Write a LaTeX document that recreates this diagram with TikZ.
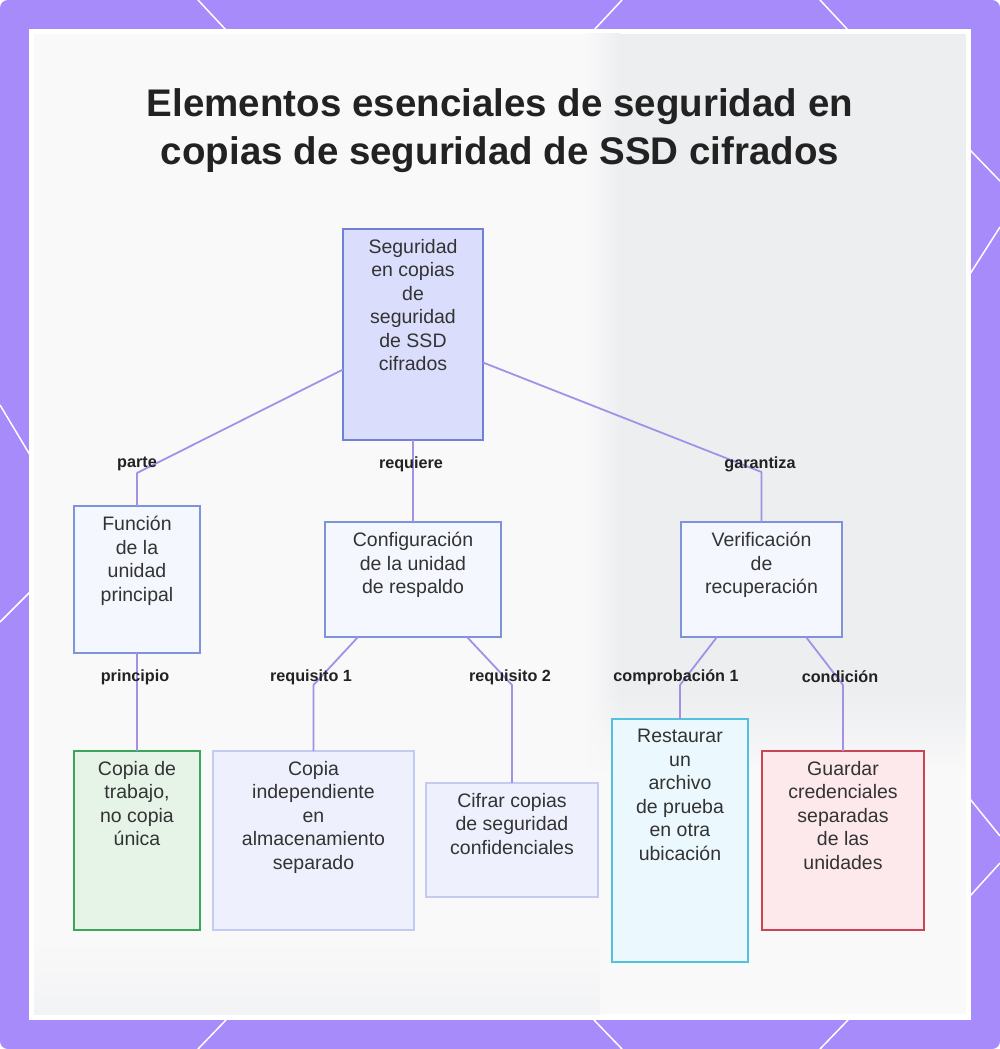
\documentclass[tikz,border=0pt]{standalone}
\usepackage{fontspec}
\setmainfont{Liberation Sans}
\usetikzlibrary{fadings}
\definecolor{purp}{HTML}{A78BFA}
\definecolor{bgin}{HTML}{F9F9FA}
\definecolor{bggray}{HTML}{EDEEF0}
\definecolor{conncol}{HTML}{A391E8}
\definecolor{txtcol}{HTML}{333333}
\definecolor{titlecol}{HTML}{222222}
\definecolor{rootfill}{HTML}{DADDFB}
\definecolor{rootdraw}{HTML}{6F80D6}
\definecolor{midfill}{HTML}{F5F7FE}
\definecolor{middraw}{HTML}{7F93DB}
\definecolor{palefill}{HTML}{EEF1FD}
\definecolor{paledraw}{HTML}{C3CBF3}
\definecolor{greenfill}{HTML}{E6F4E8}
\definecolor{greendraw}{HTML}{3BA55A}
\definecolor{cyanfill}{HTML}{EBF8FE}
\definecolor{cyandraw}{HTML}{52C2DC}
\definecolor{redfill}{HTML}{FDE8EC}
\definecolor{reddraw}{HTML}{C94554}
\begin{document}
\begin{tikzpicture}[x=1pt,y=-1pt,
  boxbase/.style={rectangle, inner sep=0pt, outer sep=0pt, line width=1.6pt},
  rootbox/.style={boxbase, fill=rootfill, draw=rootdraw},
  midbox/.style={boxbase, fill=midfill, draw=middraw},
  palebox/.style={boxbase, fill=palefill, draw=paledraw},
  greenbox/.style={boxbase, fill=greenfill, draw=greendraw},
  cyanbox/.style={boxbase, fill=cyanfill, draw=cyandraw},
  redbox/.style={boxbase, fill=redfill, draw=reddraw},
  boxtxt/.style={anchor=north, inner sep=0pt, align=center, text=txtcol,
    font=\fontsize{19.5}{23.5}\selectfont},
  conn/.style={draw=conncol, line width=1.8pt, line join=round},
  elabel/.style={inner sep=0pt, text=titlecol, font=\fontsize{16.2}{18}\selectfont\bfseries},
  titletxt/.style={inner sep=0pt, align=center, text=titlecol,
    font=\fontsize{38.5}{48}\selectfont\bfseries},
  deco/.style={white, line width=1.5pt}
]
\useasboundingbox (0,0) rectangle (1000,1049);
% frame
\fill[purp, rounded corners=8pt] (0,0) rectangle (1000,1049);
\draw[deco] (198,0) -- (226,30);
\draw[deco] (622,0) -- (594,30);
\draw[deco] (820,0) -- (848,30);
\draw[deco] (226,1020) -- (198,1049);
\draw[deco] (594,1020) -- (622,1049);
\draw[deco] (848,1020) -- (820,1049);
\draw[deco] (0,405) -- (30,455);
\draw[deco] (0,622) -- (30,592);
\draw[deco] (970,150) -- (1000,181);
\draw[deco] (970,274) -- (1000,227);
\draw[deco] (970,799) -- (1000,836);
\draw[deco] (970,896) -- (1000,863);
\fill[white] (29,29) rectangle (971,1020);
\fill[bgin] (34,34) rectangle (966,1014);
\fill[bggray] (620,34) rectangle (966,770);
\shade[left color=bgin, right color=bggray] (585,34) rectangle (620,770);
\fill[bgin, path fading=north] (585,690) rectangle (966,771);
\shade[top color=bgin, bottom color=bggray!70] (34,940) rectangle (600,1014);

% title
\node[titletxt] (title) at (500,131) {Elementos esenciales de seguridad en\\copias de seguridad de SSD cifrados};

% boxes
\node[rootbox, minimum width=140pt, minimum height=211pt] (root) at (413,334.5) {};
\node[midbox, minimum width=126pt, minimum height=147pt] (func) at (137,579.5) {};
\node[midbox, minimum width=176pt, minimum height=115pt] (config) at (413,579.5) {};
\node[midbox, minimum width=161pt, minimum height=115pt] (verif) at (761.5,579.5) {};
\node[greenbox, minimum width=126pt, minimum height=179pt] (copiat) at (137,840.5) {};
\node[palebox, minimum width=201pt, minimum height=179pt] (copiai) at (313.5,840.5) {};
\node[palebox, minimum width=172pt, minimum height=114pt] (cifrar) at (512,840) {};
\node[cyanbox, minimum width=136pt, minimum height=243pt] (rest) at (680,840.5) {};
\node[redbox, minimum width=162pt, minimum height=179pt] (guard) at (843,840.5) {};

% texts
\node[boxtxt] (rootT) at ([yshift=-10pt]root.north) {Seguridad\\en copias\\de\\seguridad\\de SSD\\cifrados};
\node[boxtxt] (funcT) at ([yshift=-10pt]func.north) {Función\\de la\\unidad\\principal};
\node[boxtxt] (configT) at ([yshift=-10pt]config.north) {Configuración\\de la unidad\\de respaldo};
\node[boxtxt] (verifT) at ([yshift=-10pt]verif.north) {Verificación\\de\\recuperación};
\node[boxtxt] (copiatT) at ([yshift=-10pt]copiat.north) {Copia de\\trabajo,\\no copia\\única};
\node[boxtxt] (copiaiT) at ([yshift=-10pt]copiai.north) {Copia\\independiente\\en\\almacenamiento\\separado};
\node[boxtxt] (cifrarT) at ([yshift=-10pt]cifrar.north) {Cifrar copias\\de seguridad\\confidenciales};
\node[boxtxt] (restT) at ([yshift=-10pt]rest.north) {Restaurar\\un\\archivo\\de prueba\\en otra\\ubicación};
\node[boxtxt] (guardT) at ([yshift=-10pt]guard.north) {Guardar\\credenciales\\separadas\\de las\\unidades};

% connectors
\draw[conn] ([yshift=-35pt]root.west) -- ([yshift=33pt]func.north) -- (func.north);
\draw[conn] (root.south) -- (config.north);
\draw[conn] ([yshift=-28pt]root.east) -- ([yshift=50pt]verif.north) -- (verif.north);
\draw[conn] (func.south) -- (copiat.north);
\draw[conn] ([xshift=-55pt]config.south) -- ([yshift=66pt]copiai.north) -- (copiai.north);
\draw[conn] ([xshift=54pt]config.south) -- ([yshift=98pt]cifrar.north) -- (cifrar.north);
\draw[conn] ([xshift=-44.5pt]verif.south) -- ([yshift=34pt]rest.north) -- (rest.north);
\draw[conn] ([xshift=44.5pt]verif.south) -- ([yshift=66pt]guard.north) -- (guard.north);

% edge labels
\node[elabel] (l1) at (137,464) {parte};
\node[elabel] (l2) at (411,464) {requiere};
\node[elabel] (l3) at (760,464) {garantiza};
\node[elabel] (l4) at (135,677) {principio};
\node[elabel] (l5) at (311,677) {requisito 1};
\node[elabel] (l6) at (510,677) {requisito 2};
\node[elabel] (l7) at (676,677) {comprobación 1};
\node[elabel] (l8) at (840,677) {condición};
\end{tikzpicture}
\end{document}
